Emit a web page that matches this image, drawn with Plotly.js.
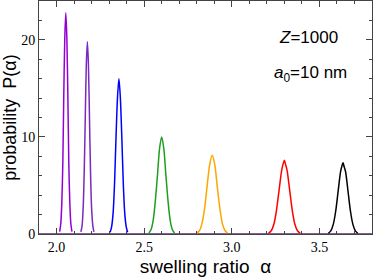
<!DOCTYPE html>
<html>
<head>
<meta charset="utf-8">
<script src="https://cdn.plot.ly/plotly-3.0.1.min.js"></script>
<style>html,body{margin:0;padding:0;background:#fff;}#chart{width:374px;height:277px;}</style>
</head>
<body>
<div id="chart"></div>
<script>
// Curve data (alpha, P(alpha))
const x1 = [2.018, 2.024, 2.030, 2.036, 2.041, 2.047, 2.053, 2.059, 2.065, 2.070, 2.076, 2.082, 2.088];
const y1 = [0.25, 1.0, 3.1, 7.4, 13.8, 20.1, 22.8, 20.1, 13.8, 7.4, 3.1, 1.0, 0.25];

const x2 = [2.139, 2.146, 2.152, 2.158, 2.164, 2.170, 2.176, 2.182, 2.188, 2.194, 2.200, 2.207, 2.213];
const y2 = [0.22, 0.87, 2.7, 6.4, 12.0, 17.5, 19.8, 17.5, 12.0, 6.4, 2.7, 0.87, 0.22];

const x3 = [2.306, 2.314, 2.323, 2.331, 2.339, 2.348, 2.356, 2.364, 2.373, 2.381, 2.389, 2.398, 2.406];
const y3 = [0.18, 0.7, 2.2, 5.2, 9.7, 14.1, 16.0, 14.1, 9.7, 5.2, 2.2, 0.7, 0.18];

const x4 = [2.527, 2.539, 2.551, 2.563, 2.576, 2.588, 2.600, 2.612, 2.624, 2.637, 2.649, 2.661, 2.673];
const y4 = [0.11, 0.44, 1.35, 3.25, 6.07, 8.83, 10.0, 8.83, 6.07, 3.25, 1.35, 0.44, 0.11];

const x5 = [2.801, 2.816, 2.830, 2.845, 2.859, 2.874, 2.888, 2.903, 2.917, 2.932, 2.946, 2.961, 2.975];
const y5 = [0.09, 0.36, 1.1, 2.63, 4.9, 7.15, 8.1, 7.15, 4.9, 2.63, 1.1, 0.36, 0.09];

const x6 = [3.210, 3.225, 3.240, 3.255, 3.270, 3.285, 3.294, 3.300, 3.306, 3.315, 3.330, 3.345, 3.360, 3.375, 3.390];
const y6 = [0.08, 0.33, 1.0, 2.44, 4.55, 6.6, 7.3, 7.6, 7.2, 6.6, 4.55, 2.44, 1.0, 0.33, 0.08];

const x7 = [3.551, 3.565, 3.579, 3.593, 3.607, 3.621, 3.630, 3.635, 3.640, 3.649, 3.663, 3.677, 3.691, 3.705, 3.719];
const y7 = [0.08, 0.32, 0.99, 2.37, 4.43, 6.44, 7.1, 7.35, 7.0, 6.44, 4.43, 2.37, 0.99, 0.32, 0.08];

const xBase = [1.9, 3.8];
const yBase = [0, 0];

const xTickVals = [2.0, 2.5, 3.0, 3.5];
const xTickText = ['2.0', '2.5', '3.0', '3.5'];
const yTickVals = [0, 10, 20];
const yTickText = ['0', '10', '20'];

const colors = ['#9400D3', '#7A2AC0', '#0000FF', '#1E9E1E', '#FFA500', '#FF0000', '#000000'];
const xs = [x1, x2, x3, x4, x5, x6, x7];
const ys = [y1, y2, y3, y4, y5, y6, y7];

const traces = [{
  x: xBase, y: yBase, mode: 'lines', line: {color: '#5a2a7a', width: 1.5}, hoverinfo: 'skip'
}];
for (let i = 0; i < xs.length; i++) {
  traces.push({
    x: xs[i], y: ys[i], mode: 'lines',
    line: {color: colors[i], width: 1.5, shape: 'spline', smoothing: 0.8}
  });
}

const axisCommon = {
  showgrid: false, zeroline: false, showline: true, linecolor: '#444', linewidth: 1,
  mirror: 'allticks', ticks: 'inside', ticklen: 6, tickwidth: 1, tickcolor: '#444',
  tickfont: {family: 'Liberation Serif', size: 14, color: '#000'}
};

const layout = {
  width: 374, height: 277,
  margin: {l: 39, r: 2, t: 1, b: 43},
  paper_bgcolor: '#fff', plot_bgcolor: '#fff',
  showlegend: false,
  xaxis: Object.assign({}, axisCommon, {
    range: [1.9, 3.8], tickmode: 'array', tickvals: xTickVals, ticktext: xTickText,
    minor: {dtick: 0.1, ticklen: 3, tickcolor: '#444', ticks: 'inside'},
    title: {text: 'swelling ratio  α', font: {family: 'Liberation Sans', size: 19, color: '#000'}, standoff: 6}
  }),
  yaxis: Object.assign({}, axisCommon, {
    range: [0, 24], tickmode: 'array', tickvals: yTickVals, ticktext: yTickText,
    minor: {dtick: 2, ticklen: 3, tickcolor: '#444', ticks: 'inside'},
    title: {text: 'probability  P(α)', font: {family: 'Liberation Sans', size: 18, color: '#000'}, standoff: 3}
  }),
  annotations: [
    {xref: 'paper', yref: 'paper', x: 0.808, y: 0.842, xanchor: 'center', yanchor: 'middle', showarrow: false,
     text: '<i>Z</i>=1000', font: {family: 'Liberation Sans', size: 17, color: '#000'}},
    {xref: 'paper', yref: 'paper', x: 0.816, y: 0.688, xanchor: 'center', yanchor: 'middle', showarrow: false,
     text: '<i>a</i><sub>0</sub>=10 nm', font: {family: 'Liberation Sans', size: 17, color: '#000'}}
  ]
};

Plotly.newPlot('chart', traces, layout, {displayModeBar: false, staticPlot: true});
</script>
</body>
</html>
